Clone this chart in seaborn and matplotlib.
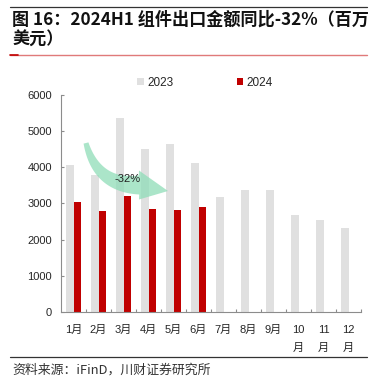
import matplotlib
matplotlib.use("Agg")
import matplotlib.pyplot as plt
import seaborn as sns
import pandas as pd
import numpy as np
from matplotlib.patches import Polygon
from matplotlib.lines import Line2D
from matplotlib.ticker import FixedLocator

# data (million USD)
months = ['1月', '2月', '3月', '4月', '5月', '6月', '7月', '8月', '9月',
          '10\n月', '11\n月', '12\n月']
v2023 = [4050, 3780, 5360, 4490, 4625, 4110, 3175, 3370, 3380, 2670, 2540, 2330]
v2024 = [3040, 2780, 3200, 2840, 2810, 2890]
years = ['2023', '2024']
colors = ['#E0E0E0', '#C00000']
yticks = [0, 1000, 2000, 3000, 4000, 5000, 6000]

rows = []
for m, v in zip(months, v2023):
    rows.append({'month': m, 'year': '2023', 'value': v})
for m, v in zip(months, v2024):
    rows.append({'month': m, 'year': '2024', 'value': v})
df = pd.DataFrame(rows)

sns.set_theme(style='white')
plt.rcParams['font.family'] = ['Liberation Sans', 'Noto Sans CJK SC']

W, H = 374, 384
fig = plt.figure(figsize=(W / 100, H / 100), dpi=100)
ax = fig.add_axes([61 / W, 1 - 312 / H, 300 / W, (312 - 94.7) / H])

sns.barplot(data=df, x='month', y='value', hue='year', order=months,
            hue_order=years, palette=colors, width=0.6, errorbar=None,
            saturation=1, linewidth=0, ax=ax)

ax.set_ylim(0, 6000)
ax.set_xlim(-0.5, len(months) - 0.5)
ax.set_yticks(yticks)
ax.set_xlabel('')
ax.set_ylabel('')
for s in ['top', 'right']:
    ax.spines[s].set_visible(False)
for s in ['left', 'bottom']:
    ax.spines[s].set_color('#8C8C8C')
    ax.spines[s].set_linewidth(0.8)

ax.tick_params(axis='y', direction='in', length=2.5, width=0.8, color='#8C8C8C',
               labelsize=8, pad=6.5, left=True)
ax.tick_params(axis='x', which='major', length=0, labelsize=8, pad=9.5)
ax.xaxis.set_minor_locator(FixedLocator([i + 0.5 for i in range(len(months))]))
ax.tick_params(axis='x', which='minor', direction='in', length=2.5, width=0.8,
               color='#8C8C8C', bottom=True)
for lab in ax.get_xticklabels():
    lab.set_linespacing(1.95)

# legend
h, l = ax.get_legend_handles_labels()
ax.legend(h, l, ncol=2, frameon=False, fontsize=8.5, handlelength=0.55,
          handleheight=0.55, handletextpad=0.25, columnspacing=5.4,
          loc='center', bbox_to_anchor=(205 / W, 1 - 83 / H),
          bbox_transform=fig.transFigure)


# curved, widening -32% arrow (shape laid out in figure pixels, top-down)
def px_to_data(pts):
    disp = np.column_stack([pts[:, 0], H - pts[:, 1]])
    return ax.transData.inverted().transform(disp)


t = np.linspace(0, 1, 40)[:, None]
p0, p1, p2 = np.array([86.0, 143.0]), np.array([97.0, 186.0]), np.array([139.0, 185.0])
centre = (1 - t) ** 2 * p0 + 2 * (1 - t) * t * p1 + t ** 2 * p2
deriv = 2 * (1 - t) * (p1 - p0) + 2 * t * (p2 - p1)
deriv /= np.linalg.norm(deriv, axis=1, keepdims=True)
normal = np.column_stack([deriv[:, 1], -deriv[:, 0]])  # points up/right
half = 2.5 + 7.0 * t
upper = centre + normal * half
lower = centre - normal * half
head = np.array([[139.0, 170.5], [168.0, 191.0], [139.0, 199.5]])
shape = np.vstack([upper, head, lower[::-1]])
ax.add_patch(Polygon(px_to_data(shape), closed=True, color='#8FDDB8',
                     alpha=0.75, lw=0, zorder=5))
ax.text(2.17, 3660, '-32%', ha='center', va='center', fontsize=8, color='#222222',
        zorder=6)

# header / footer decoration
fig.add_artist(Line2D([10 / W, 367 / W], [1 - 7 / H, 1 - 7 / H],
                      transform=fig.transFigure, color='#333333', lw=0.9))
fig.add_artist(Line2D([10 / W, 367 / W], [1 - 55 / H, 1 - 55 / H],
                      transform=fig.transFigure, color='#E07A7A', lw=1.0))
fig.add_artist(Line2D([10 / W, 18 / W], [1 - 55 / H, 1 - 55 / H],
                      transform=fig.transFigure, color='#C00000', lw=1.2))
fig.add_artist(Line2D([10 / W, 367 / W], [1 - 357 / H, 1 - 357 / H],
                      transform=fig.transFigure, color='#333333', lw=0.9))

fig.text(12 / W, 1 - 20 / H, '图 16：2024H1 组件出口金额同比-32%（百万',
         family=['Noto Sans CJK SC'], fontweight='bold', fontsize=12.3,
         va='center', ha='left', color='#111111')
fig.text(12 / W, 1 - 39.5 / H, '美元）',
         family=['Noto Sans CJK SC'], fontweight='bold', fontsize=12.3,
         va='center', ha='left', color='#111111')
fig.text(12 / W, 1 - 370 / H, '资料来源：iFinD，川财证券研究所',
         family=['Noto Sans CJK SC', 'DejaVu Sans'], style='italic', fontsize=9.3,
         va='center', ha='left', color='#333333')

fig.savefig('out.png', dpi=100)
